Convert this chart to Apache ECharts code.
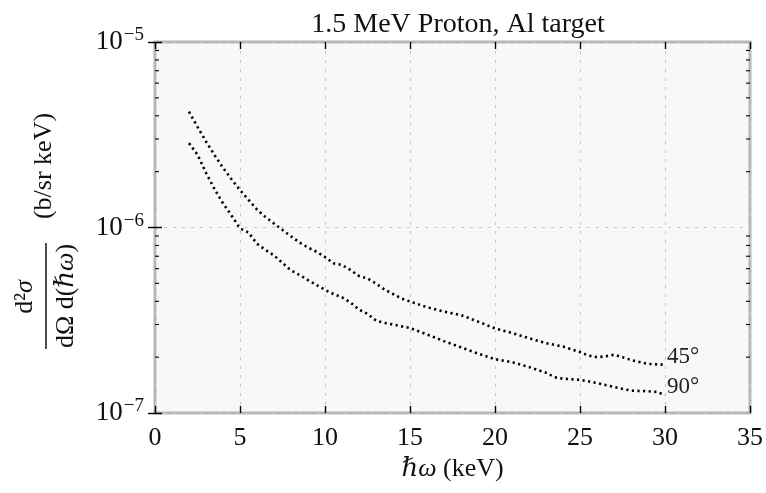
<!DOCTYPE html>
<html>
<head>
<meta charset="utf-8">
<script src="https://cdn.jsdelivr.net/npm/echarts@6/dist/echarts.min.js"></script>
<style>html,body{margin:0;padding:0;background:#fff;}#chart{width:766px;height:493px;}</style>
</head>
<body>
<div id="chart"></div>
<script>
// ---- data ----
const titleText = '1.5 MeV Proton, Al target';
const seriesNames = ['45°', '90°'];
const energy45 = [2,2.5,3,3.5,4,4.5,5,5.5,6,6.5,7,7.5,8,8.5,9,9.5,10,10.5,11,11.5,12,12.5,13,13.5,14,14.5,15,16,17,18,19,20,21,22,23,24,25,25.5,26,26.5,27,27.5,28,29,30];
const sigma45 = [4.21e-6,3.49e-6,2.91e-6,2.46e-6,2.10e-6,1.82e-6,1.59e-6,1.41e-6,1.25e-6,1.14e-6,1.05e-6,9.7e-7,8.97e-7,8.3e-7,7.8e-7,7.4e-7,6.93e-7,6.41e-7,6.28e-7,5.9e-7,5.48e-7,5.31e-7,4.99e-7,4.63e-7,4.38e-7,4.14e-7,3.99e-7,3.72e-7,3.52e-7,3.37e-7,3.11e-7,2.86e-7,2.70e-7,2.53e-7,2.38e-7,2.28e-7,2.13e-7,2.04e-7,2.00e-7,2.02e-7,2.06e-7,2.00e-7,1.93e-7,1.84e-7,1.82e-7];
const energy90 = [2,2.5,3,3.5,4,4.5,5,5.5,6,6.5,7,7.5,8,8.5,9,9.5,10,10.5,11,11.5,12,12.5,13,13.5,14,15,16,17,18,19,20,21,22,23,23.5,24,25,26,27,28,29,29.5,30];
const sigma90 = [2.85e-6,2.47e-6,1.97e-6,1.61e-6,1.35e-6,1.16e-6,9.9e-7,9.4e-7,8.17e-7,7.57e-7,7.07e-7,6.44e-7,5.87e-7,5.55e-7,5.21e-7,4.9e-7,4.61e-7,4.38e-7,4.2e-7,3.94e-7,3.61e-7,3.42e-7,3.15e-7,3.06e-7,3.0e-7,2.87e-7,2.65e-7,2.44e-7,2.26e-7,2.09e-7,1.95e-7,1.88e-7,1.77e-7,1.65e-7,1.56e-7,1.53e-7,1.51e-7,1.45e-7,1.38e-7,1.32e-7,1.31e-7,1.30e-7,1.25e-7];
const xTicks = [0,5,10,15,20,25,30,35];
const yMajorTicks = [1e-7, 1e-6, 1e-5];
const yTickExponents = {'1e-7': '−7', '1e-6': '−6', '1e-5': '−5'};
const yMinorTicks = [2e-7,3e-7,4e-7,5e-7,6e-7,7e-7,8e-7,9e-7,2e-6,3e-6,4e-6,5e-6,6e-6,7e-6,8e-6,9e-6];

// ---- chart ----
const FONT = '"Liberation Serif","DejaVu Serif",serif';
const chart = echarts.init(document.getElementById('chart'), null, {renderer: 'canvas'});

function pairs(xs, ys) { return xs.map((x, i) => [x, ys[i]]); }

const tickStyle = {show: true, inside: true, length: 7, lineStyle: {color: '#000', width: 1.4}};
const gridLine = {show: true, lineStyle: {color: '#c8c8c8', width: 1, type: [3, 6]}};

const lineSeries = (name, xs, ys) => ({
  type: 'line', name: name, data: pairs(xs, ys), xAxisIndex: 0, yAxisIndex: 0,
  showSymbol: false, symbol: 'none', z: 5,
  lineStyle: {color: '#000', width: 2.6, type: [2.2, 3.4], cap: 'butt'},
  endLabel: {show: true, formatter: name, fontFamily: FONT, fontSize: 23, color: '#222', distance: 2, offset: [0, -8]}
});

chart.setOption({
  animation: false,
  backgroundColor: '#fff',
  title: {
    text: titleText, left: 453, top: 6, textAlign: 'center',
    textStyle: {fontFamily: FONT, fontSize: 28, fontWeight: 'normal', color: '#111'}
  },
  grid: {left: 155, right: 16, top: 42, bottom: 80, show: true, backgroundColor: '#f8f8f8', borderColor: '#b5b5b5', borderWidth: 3},
  xAxis: [{
    type: 'value', min: xTicks[0], max: xTicks[xTicks.length - 1], interval: 5, position: 'bottom',
    axisLine: {show: false}, axisTick: tickStyle, splitLine: gridLine,
    axisLabel: {fontFamily: FONT, fontSize: 26, color: '#111', margin: 12},
    name: '{i|ℏω} (keV)', nameLocation: 'middle', nameGap: 37,
    nameTextStyle: {fontFamily: FONT, fontSize: 26, color: '#111',
      rich: {i: {fontFamily: FONT, fontSize: 26, fontStyle: 'italic', color: '#111'}}}
  }, {
    type: 'value', min: xTicks[0], max: xTicks[xTicks.length - 1], interval: 5, position: 'top',
    axisLine: {show: false}, axisTick: tickStyle, splitLine: {show: false}, axisLabel: {show: false}
  }],
  yAxis: [{
    type: 'log', logBase: 10, min: yMajorTicks[0], max: yMajorTicks[yMajorTicks.length - 1], position: 'left',
    axisLine: {show: false}, axisTick: tickStyle, splitLine: gridLine,
    axisLabel: {
      margin: 11, color: '#111',
      formatter: function (v) {
        const e = Math.round(Math.log10(v));
        const key = '1e' + e;
        return '{b|10}{s|' + (yTickExponents[key] || String(e)) + '}';
      },
      rich: {
        b: {fontFamily: FONT, fontSize: 27, color: '#111'},
        s: {fontFamily: FONT, fontSize: 19, color: '#111', verticalAlign: 'top', padding: [0, 0, 13, 1]}
      }
    }
  }, {
    type: 'log', logBase: 10, min: yMajorTicks[0], max: yMajorTicks[yMajorTicks.length - 1], position: 'right',
    axisLine: {show: false}, axisTick: tickStyle, splitLine: {show: false}, axisLabel: {show: false}
  }],
  series: [
    lineSeries(seriesNames[0], energy45, sigma45),
    lineSeries(seriesNames[1], energy90, sigma90),
    {
      type: 'custom', xAxisIndex: 0, yAxisIndex: 0, z: 6, silent: true, clip: false,
      data: yMinorTicks.map(v => [0, v]),
      renderItem: function (params, api) {
        const cs = params.coordSys;
        const p = api.coord([0, api.value(1)]);
        const y = p[1];
        return {
          type: 'group',
          children: [
            {type: 'line', shape: {x1: cs.x, y1: y, x2: cs.x + 4, y2: y}, style: {stroke: '#000', lineWidth: 1.1}},
            {type: 'line', shape: {x1: cs.x + cs.width - 4, y1: y, x2: cs.x + cs.width, y2: y}, style: {stroke: '#000', lineWidth: 1.1}}
          ]
        };
      }
    }
  ],
  graphic: [
    {type: 'text', x: 25, y: 297, rotation: Math.PI / 2,
      style: {text: '{r|d²}{i|σ}', align: 'center', verticalAlign: 'middle', textAlign: 'center', textVerticalAlign: 'middle',
        rich: {r: {fontFamily: FONT, fontSize: 26, fill: '#111'}, i: {fontFamily: FONT, fontSize: 26, fontStyle: 'italic', fill: '#111'}}}},
    {type: 'line', shape: {x1: 46, y1: 243, x2: 46, y2: 349}, style: {stroke: '#111', lineWidth: 1.5}},
    {type: 'text', x: 66, y: 296, rotation: Math.PI / 2,
      style: {text: '{r|dΩ d(}{i|ℏω}{r|)}', align: 'center', verticalAlign: 'middle', textAlign: 'center', textVerticalAlign: 'middle',
        rich: {r: {fontFamily: FONT, fontSize: 26, fill: '#111'}, i: {fontFamily: FONT, fontSize: 26, fontStyle: 'italic', fill: '#111'}}}},
    {type: 'text', x: 44, y: 166, rotation: Math.PI / 2,
      style: {text: '(b/sr keV)', align: 'center', verticalAlign: 'middle', textAlign: 'center', textVerticalAlign: 'middle',
        font: '26px ' + FONT, fill: '#111'}}
  ]
});
</script>
</body>
</html>
